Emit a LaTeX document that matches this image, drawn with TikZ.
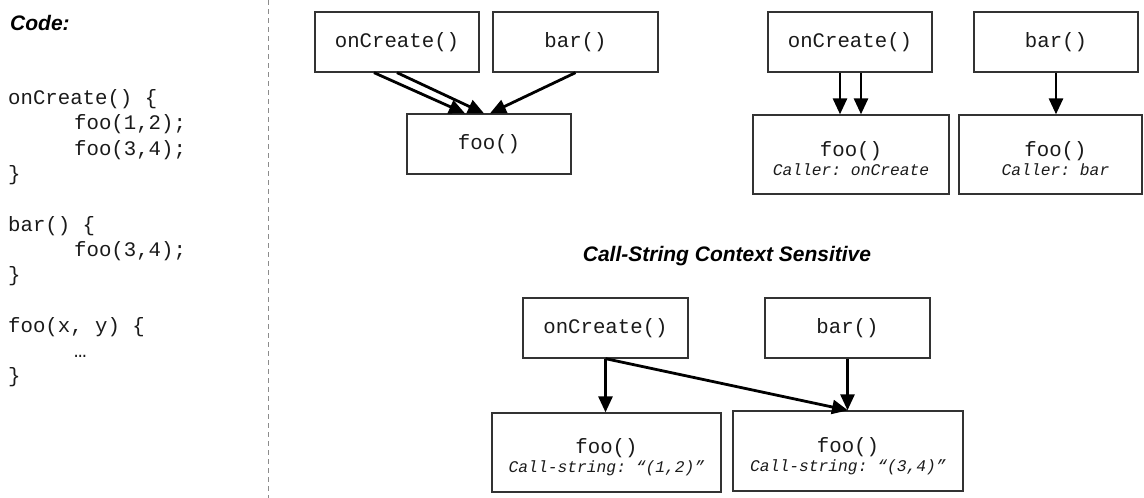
\documentclass[tikz,border=0pt]{standalone}
\usepackage{fontspec}
\setmainfont{Liberation Sans}
\setsansfont{Liberation Sans}
\setmonofont{Liberation Mono}
\usetikzlibrary{arrows.meta}
\definecolor{boxline}{HTML}{333333}
\definecolor{ink}{HTML}{1A1A1A}
\definecolor{sepline}{HTML}{8C8C8C}
\begin{document}
\begin{tikzpicture}[x=1pt,y=-1pt,
  fnbox/.style={draw=boxline,line width=1.3pt,inner sep=0pt,
    minimum width=#1,minimum height=60pt,text=ink,
    font=\ttfamily\fontsize{20.7}{24}\selectfont},
  fnbox/.default=164pt,
  ctxbox/.style n args={2}{draw=boxline,line width=1.3pt,inner sep=0pt,
    minimum width=#1,minimum height=#2},
  fnname/.style={anchor=base,inner sep=0pt,text=ink,
    font=\ttfamily\fontsize{20.7}{24}\selectfont},
  ctxnote/.style={anchor=base,inner sep=0pt,text=ink,
    font=\ttfamily\itshape\fontsize{16.3}{20}\selectfont},
  codeline/.style={anchor=base west,inner sep=0pt,text=ink,
    font=\ttfamily\fontsize{20.7}{24}\selectfont},
  heading/.style={inner sep=0pt,text=black,
    font=\sffamily\bfseries\itshape\fontsize{21}{25}\selectfont},
  call/.style={draw=black,line width=2.8pt,
    -{Triangle[length=16pt,width=14pt]}},
]
\useasboundingbox (0,0) rectangle (1144,498);

% separator between the source listing and the graphs
\coordinate (septop) at (268,0);
\coordinate (sepbot) at (268,498);
\draw[sepline,line width=1pt,dash pattern=on 5pt off 4pt] (septop) -- (sepbot);

% source listing
\node[heading,anchor=base west] (codehead) at (10,30) {Code:};
\node[codeline] (l1) at (8,104.5) {onCreate() \{};
\node[codeline] (l2) at (74,129.8) {foo(1,2);};
\node[codeline] (l3) at (74,155.1) {foo(3,4);};
\node[codeline] (l4) at (8,180.4) {\}};
\node[codeline] (l5) at (8,231) {bar() \{};
\node[codeline] (l6) at (74,256.3) {foo(3,4);};
\node[codeline] (l7) at (8,281.6) {\}};
\node[codeline] (l8) at (8,332.2) {foo(x, y) \{};
\node[codeline] (l9) at (74,357.5) {…};
\node[codeline] (l10) at (8,382.8) {\}};

% context-insensitive call graph
\node[fnbox] (onc1) at (397,42) {onCreate()};
\node[fnbox=165pt] (bar1) at (575.5,42) {bar()};
\node[fnbox] (foo1) at (489,144) {foo()};
\draw[call] ([xshift=-23pt]onc1.south) -- ([xshift=-24pt]foo1.north);
\draw[call] (onc1.south) -- ([xshift=-5pt]foo1.north);
\draw[call] (bar1.south) -- ([xshift=1pt]foo1.north);

% caller-sensitive call graph
\node[fnbox] (onc2) at (850,42) {onCreate()};
\node[fnbox] (bar2) at (1056,42) {bar()};
\node[ctxbox={196pt}{79pt}] (foo2a) at (851,154.5) {};
\node[fnname] (foo2aname) at ([yshift=-2pt]foo2a.center) {foo()};
\node[ctxnote] (foo2anote) at ([yshift=-21pt]foo2a.center) {Caller: onCreate};
\node[ctxbox={183pt}{79pt}] (foo2b) at (1050.5,154.5) {};
\node[fnname] (foo2bname) at ([xshift=5pt,yshift=-2pt]foo2b.center) {foo()};
\node[ctxnote] (foo2bnote) at ([xshift=5pt,yshift=-21pt]foo2b.center) {Caller: bar};
\draw[call] ([xshift=-10pt]onc2.south) -- ([xshift=-11pt]foo2a.north);
\draw[call] ([xshift=11pt]onc2.south) -- ([xshift=10pt]foo2a.north);
\draw[call] (bar2.south) -- ([xshift=5.5pt]foo2b.north);

% call-string-sensitive call graph
\node[heading] (cshead) at (727,256) {Call-String Context Sensitive};
\node[fnbox=165pt] (onc3) at (605.5,328) {onCreate()};
\node[fnbox=165pt] (bar3) at (847.5,328) {bar()};
\node[ctxbox={229pt}{79pt}] (foo3a) at (606.5,452.5) {};
\node[fnname] (foo3aname) at ([yshift=-1pt]foo3a.center) {foo()};
\node[ctxnote] (foo3anote) at ([yshift=-20pt]foo3a.center) {Call-string: “(1,2)”};
\node[ctxbox={230pt}{80pt}] (foo3b) at (848,451) {};
\node[fnname] (foo3bname) at ([yshift=-1pt]foo3b.center) {foo()};
\node[ctxnote] (foo3bnote) at ([yshift=-20pt]foo3b.center) {Call-string: “(3,4)”};
\draw[call] (onc3.south) -- (onc3.south |- foo3a.north);
\draw[call] (onc3.south) -- (foo3b.north);
\draw[call] (bar3.south) -- (bar3.south |- foo3b.north);
\end{tikzpicture}
\end{document}
